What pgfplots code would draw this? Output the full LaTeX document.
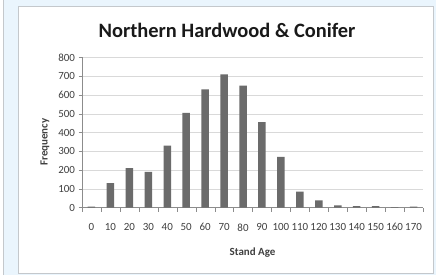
\documentclass[border=0pt]{standalone}
\usepackage{pgfplots}
\pgfplotsset{compat=1.18}
\usepackage{fontspec}
\setmainfont{Carlito}
\definecolor{bgblue}{HTML}{EAF5FD}
\definecolor{panelborder}{HTML}{C4C8CC}
\definecolor{axisgray}{HTML}{8C8C8C}
\definecolor{gridgray}{HTML}{D9D9D9}
\definecolor{bargray}{HTML}{6B6B6B}
\definecolor{labelgray}{HTML}{404040}
\begin{document}
\begin{tikzpicture}[x=1bp,y=1bp]
\useasboundingbox (0,0) rectangle (436,275);
\fill[bgblue] (0,0) rectangle (436,275);
\fill[white] (0,0) rectangle (3.5,275);
\draw[panelborder] (3.5,0) -- (3.5,275);
\filldraw[fill=white, draw=panelborder] (18,2) rectangle (433,269);
\begin{axis}[
  at={(82bp,67.5bp)}, anchor=south west,
  scale only axis, width=341bp, height=150bp,
  ymin=0, ymax=800, ytick={0,100,...,800},
  xmin=-5, xmax=175,
  xtick=data,
  x tick style={draw=none},
  extra x ticks={-5,5,...,175},
  extra x tick labels={},
  extra x tick style={x tick style={draw=axisgray}, major tick length=4bp},
  tick align=outside,
  major tick length=3.5bp,
  axis x line*=bottom, axis y line*=left,
  axis line style={axisgray},
  y tick style={axisgray},
  ymajorgrids, grid style={gridgray},
  /pgf/number format/assume math mode=true,
  yticklabel style={font=\fontsize{11}{13}\selectfont, text=labelgray},
  xticklabel style={font=\fontsize{11}{13}\selectfont, text=labelgray, yshift=-9bp},
  ybar, bar width=7.5bp,
]
\addplot[fill=bargray, draw=none] coordinates {
  (0,5) (10,130) (20,210) (30,190) (40,330) (50,505) (60,630) (70,710) (80,650)
  (90,455) (100,270) (110,85) (120,38) (130,12) (140,8) (150,8) (160,2) (170,5)
};
\end{axis}
\node[font=\bfseries\fontsize{20.5}{24}\selectfont, text=black!90] at (227,245) {Northern Hardwood \& Conifer};
\node[font=\bfseries\fontsize{11}{13}\selectfont, text=labelgray] at (252.5,22.5) {Stand Age};
\node[font=\bfseries\fontsize{11}{13}\selectfont, text=labelgray, rotate=90] at (45,133) {Frequency};
\end{tikzpicture}
\end{document}
